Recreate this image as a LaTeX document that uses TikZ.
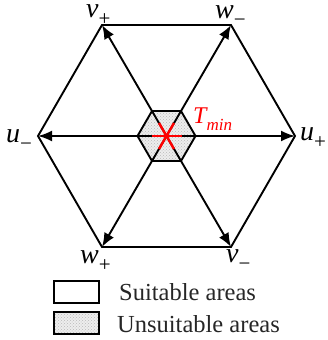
\documentclass[tikz,border=0pt]{standalone}
\usepackage{fontspec}
\setmainfont{Liberation Serif}
\usetikzlibrary{arrows.meta,patterns,calc}
\newcommand\mysub[1]{\raisebox{-0.3em}{\fontsize{21}{21}\selectfont\upshape #1}}
\begin{document}
\begin{tikzpicture}[x=1pt,y=-1pt,
  edge/.style={line width=1.9pt, line join=miter},
  arr/.style={line width=1.9pt, -{Latex[length=14pt,width=11pt]}},
  redl/.style={line width=2.4pt, red},
  lbl/.style={inner sep=0pt, anchor=base west, font=\fontsize{28}{32}\selectfont\itshape},
  leg/.style={inner sep=0pt, anchor=base west, font=\fontsize{24.5}{28}\selectfont, text=black!85},
  legbox/.style={draw, line width=1.9pt}
]
\useasboundingbox (0,0) rectangle (328,340);
% outer vertices
\coordinate (c) at (166.5,136);
\coordinate (up) at (295,136);
\coordinate (wm) at (231,25);
\coordinate (vp) at (102,25);
\coordinate (um) at (38,136);
\coordinate (wp) at (102,247);
\coordinate (vm) at (231,247);
\draw[edge] (up) -- (wm) -- (vp) -- (um) -- (wp) -- (vm) -- cycle;
% small hexagon
\coordinate (h1) at (195.5,136);
\coordinate (h2) at (181,111);
\coordinate (h3) at (152,111);
\coordinate (h4) at (137.5,136);
\coordinate (h5) at (152,161);
\coordinate (h6) at (181,161);
\fill[gray!14] (h1) -- (h2) -- (h3) -- (h4) -- (h5) -- (h6) -- cycle;
\fill[pattern=crosshatch dots, pattern color=gray!55] (h1) -- (h2) -- (h3) -- (h4) -- (h5) -- (h6) -- cycle;
\draw[edge] (h1) -- (h2) -- (h3) -- (h4) -- (h5) -- (h6) -- cycle;
% arrows
\foreach \t in {up,wm,vp,um,wp,vm} \draw[arr] (c) -- (\t);
% red star
\draw[redl] ($(c)+(-15,0)$) -- ($(c)+(15,0)$);
\draw[redl] ($(c)+(-7.5,-13)$) -- ($(c)+(7.5,13)$);
\draw[redl] ($(c)+(7.5,-13)$) -- ($(c)+(-7.5,13)$);
% labels
\node[lbl] (lvp) at (86,17) {v\mysub{+}};
\node[lbl] (lwm) at (215,18) {w\mysub{−}};
\node[lbl] (lum) at (6,142) {u\mysub{−}};
\node[lbl] (lup) at (300,140) {u\mysub{+}};
\node[lbl] (lwp) at (80,263) {w\mysub{+}};
\node[lbl] (lvm) at (226,262) {v\mysub{−}};
\node[inner sep=0pt, anchor=base west, text=red, font=\fontsize{24}{27}\selectfont\itshape] (tmin) at (193,123) {T\raisebox{-0.3em}{\fontsize{17}{17}\selectfont min}};
% legend
\draw[legbox, fill=white] (54,281) rectangle (99,303);
\fill[gray!14] (54,312) rectangle (99,334);
\fill[pattern=crosshatch dots, pattern color=gray!55] (54,312) rectangle (99,334);
\draw[legbox] (54,312) rectangle (99,334);
\node[leg] (ls) at (119,300) {Suitable areas};
\node[leg] (lu) at (117,332) {Unsuitable areas};
\end{tikzpicture}
\end{document}
